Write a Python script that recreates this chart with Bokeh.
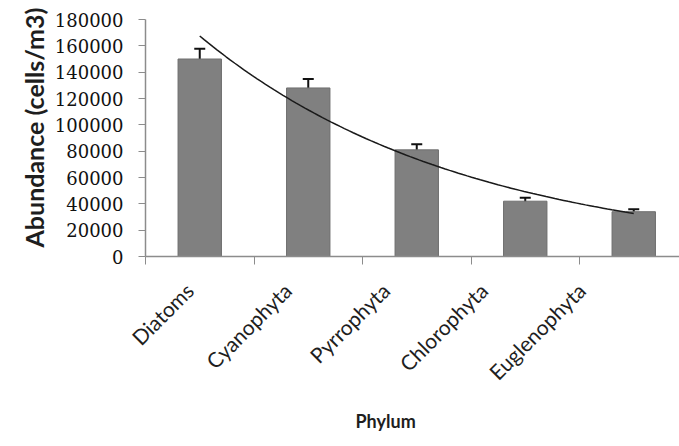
import numpy as np
from math import pi
from bokeh.plotting import figure
from bokeh.models import (Range1d, FixedTicker, ColumnDataSource, Whisker,
                          TeeHead, Title, BasicTickFormatter)
from bokeh.embed import file_html
from bokeh.resources import INLINE

# ---- data ----
phyla = ["Diatoms", "Cyanophyta", "Pyrrophyta", "Chlorophyta", "Euglenophyta"]
abundance = [150000, 128000, 81000, 42000, 34000]
error = [7800, 6800, 4200, 2600, 1800]
y_ticks = [0, 20000, 40000, 60000, 80000, 100000, 120000, 140000, 160000, 180000]
x_title = "Phylum"
y_title = "Abundance (cells/m3)"

pos = list(range(1, len(phyla) + 1))
src = ColumnDataSource(dict(
    x=pos, top=abundance,
    upper=[a + e for a, e in zip(abundance, error)],
    lower=[a - e for a, e in zip(abundance, error)],
))

FRAME_W = 679 - 145
X0, X1 = 0.5, 0.5 + FRAME_W / 108.5          # bar (category) range
LBL_STEP = 98.0                               # px between category labels
L0 = 1 - 44 / LBL_STEP                        # label range start
L1 = L0 + FRAME_W / LBL_STEP

p = figure(width=679, height=446,
           x_range=Range1d(L0, L1), y_range=Range1d(0, 180000),
           min_border_left=145, min_border_right=0,
           min_border_top=19, min_border_bottom=189,
           output_backend="svg", toolbar_location=None)
p.extra_x_ranges = {"bars": Range1d(X0, X1)}
p.outline_line_color = None
p.grid.visible = False
p.background_fill_color = "white"
p.border_fill_color = "white"

p.vbar(x="x", top="top", width=0.4, source=src, x_range_name="bars",
       fill_color="#808080", line_color="#6e6e6e", line_width=1)

whisker = Whisker(base="x", upper="upper", lower="lower", source=src,
                  x_range_name="bars",
                  line_color="#111111", line_width=2,
                  upper_head=TeeHead(size=11, line_width=2, line_color="#111111"),
                  lower_head=TeeHead(size=11, line_width=2, line_color="#111111"))
p.add_layout(whisker)

# exponential trendline fitted to the bar values
coef = np.polyfit(pos, np.log(abundance), 1)
xs = np.linspace(pos[0], pos[-1], 100)
ys = np.exp(np.polyval(coef, xs))
p.line(xs, ys, x_range_name="bars", line_color="#1a1a1a", line_width=1.5)

axis_color = "#8c8c8c"
text_color = "#1e1e1e"

# x axis: labels at (label range) positions, boundary ticks as minor ticks
bounds = [x - 0.5 for x in pos] + [pos[-1] + 0.5]
bounds_lbl = [L0 + (b - X0) * (L1 - L0) / (X1 - X0) for b in bounds]
xa = p.xaxis[0]
xa.ticker = FixedTicker(ticks=pos, minor_ticks=bounds_lbl)
xa.major_label_overrides = {x: name for x, name in zip(pos, phyla)}
xa.major_label_orientation = pi / 4
xa.major_tick_line_color = None
xa.major_tick_out = 8
xa.major_tick_in = 0
xa.minor_tick_line_color = axis_color
xa.minor_tick_out = 8
xa.minor_tick_in = 0
xa.axis_line_color = axis_color
xa.axis_line_width = 1.5
xa.major_label_text_font = "Lato"
xa.major_label_text_font_size = "21px"
xa.major_label_text_color = text_color
xa.major_label_standoff = 22

# y axis: visible ticks drawn as minor ticks, longer invisible major ticks
# push the labels away from the axis line
ya = p.yaxis[0]
ya.ticker = FixedTicker(ticks=y_ticks, minor_ticks=y_ticks)
ya.formatter = BasicTickFormatter(use_scientific=False)
ya.major_tick_out = 17
ya.major_tick_in = 0
ya.major_tick_line_color = None
ya.minor_tick_out = 7
ya.minor_tick_in = 0
ya.minor_tick_line_color = axis_color
ya.axis_line_color = axis_color
ya.axis_line_width = 1.5
ya.major_label_text_font = "DejaVu Serif"
ya.major_label_text_font_size = "18px"
ya.major_label_text_color = "#111111"
ya.major_label_standoff = 5

# axis titles
p.add_layout(Title(text=x_title, align="left", offset=210, standoff=26,
                   vertical_align="top",
                   text_font="Lato", text_font_style="bold",
                   text_font_size="18px", text_color=text_color), "below")
p.add_layout(Title(text=y_title, align="left", offset=9, standoff=6,
                   text_font="Lato", text_font_style="bold",
                   text_font_size="25px", text_color=text_color), "left")

open("out.html", "w").write(file_html(p, INLINE))
